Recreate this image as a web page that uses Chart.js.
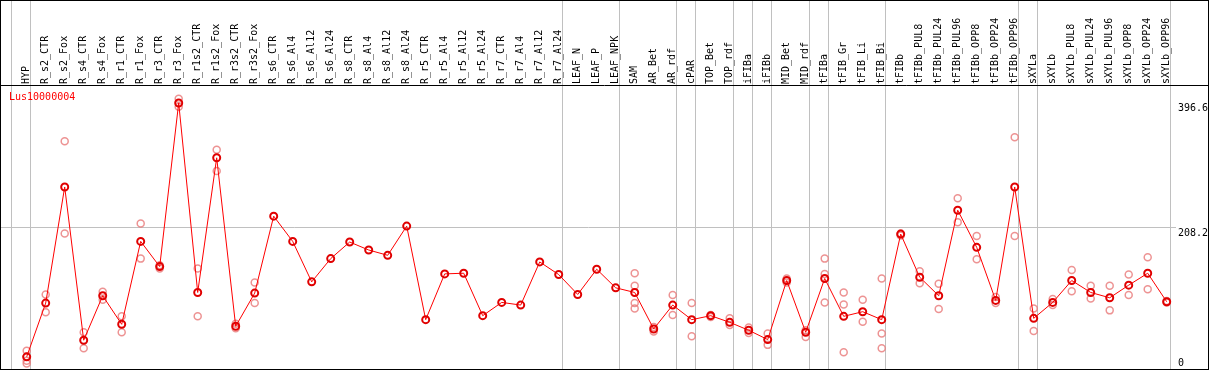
<!DOCTYPE html>
<html>
<head>
<meta charset="utf-8">
<script src="https://cdn.jsdelivr.net/npm/chart.js@4"></script>
<style>
body { margin: 0; background: #fff; }
canvas { display: block; }
</style>
</head>
<body>
<canvas id="expr" width="1209" height="370"></canvas>
<script>
const geneName = 'Lus10000004';

const categories = ['HYP', 'R_s2_CTR', 'R_s2_Fox', 'R_s4_CTR', 'R_s4_Fox', 'R_r1_CTR', 'R_r1_Fox',
  'R_r3_CTR', 'R_r3_Fox', 'R_r1s2_CTR', 'R_r1s2_Fox', 'R_r3s2_CTR', 'R_r3s2_Fox',
  'R_s6_CTR', 'R_s6_Al4', 'R_s6_Al12', 'R_s6_Al24', 'R_s8_CTR', 'R_s8_Al4', 'R_s8_Al12', 'R_s8_Al24',
  'R_r5_CTR', 'R_r5_Al4', 'R_r5_Al12', 'R_r5_Al24', 'R_r7_CTR', 'R_r7_Al4', 'R_r7_Al12', 'R_r7_Al24',
  'LEAF_N', 'LEAF_P', 'LEAF_NPK', 'SAM', 'AR_Bet', 'AR_rdf', 'cPAR', 'TOP_Bet', 'TOP_rdf',
  'iFIBa', 'iFIBb', 'MID_Bet', 'MID_rdf', 'tFIBa', 'tFIB_Gr', 'tFIB_Li', 'tFIB_Bi',
  'tFIBb', 'tFIBb_PUL8', 'tFIBb_PUL24', 'tFIBb_PUL96', 'tFIBb_OPP8', 'tFIBb_OPP24', 'tFIBb_OPP96',
  'sXYLa', 'sXYLb', 'sXYLb_PUL8', 'sXYLb_PUL24', 'sXYLb_PUL96', 'sXYLb_OPP8', 'sXYLb_OPP24', 'sXYLb_OPP96'];

// mean per sample
const means = [14, 95, 270, 39, 106, 63, 188, 150, 396.6, 111, 314, 60, 110,
  226, 188, 127, 162, 187, 175, 167, 211,
  70, 139, 140, 76, 96, 92, 157, 138,
  108, 146, 118, 111, 56, 92, 70, 76, 66,
  54, 40, 129, 51, 132, 75, 82, 70,
  199, 134, 106, 235, 179, 99, 270,
  72, 96, 129, 111, 103, 122, 140, 97];

// single replicates (faint circles)
const replicates = [[23, 14, 8, 4], [108, 81], [339, 200], [51, 27], [112, 100], [75, 51], [215, 162],
  [152, 147], [403, 391], [147, 75], [326, 294], [64, 57], [126, 95],
  [], [], [], [], [], [], [], [],
  [], [], [], [], [], [], [], [],
  [], [], [], [140, 121, 95, 87], [59, 52], [107, 77], [95, 45], [77, 74], [72, 62],
  [58, 50], [49, 32], [132, 126], [54, 44], [162, 139, 96], [111, 93, 21], [100, 67], [132, 49, 27],
  [200, 197], [143, 125], [124, 86], [253, 217], [196, 161], [104, 95], [345, 196],
  [87, 53], [101, 92], [145, 113], [121, 102], [121, 84], [138, 107], [164, 116], [98, 96]];

const yTicks = [0, 208.2, 396.6];

// group separators: drawn just after these sample indexes
const groupBreaks = [-1, 0, 28, 31, 34, 35, 37, 38, 39, 41, 42, 45, 52, 53, 60];

const meanPoints = means.map((v, i) => ({x: i, y: v}));
const repPoints = [];
replicates.forEach((reps, i) => reps.forEach(v => repPoints.push({x: i, y: v})));

const frames = {
  id: 'frames',
  beforeDraw(chart) {
    const ctx = chart.ctx;
    const x = chart.scales.x;
    ctx.save();
    ctx.fillStyle = '#fff';
    ctx.fillRect(0, 0, chart.width, chart.height);
    ctx.strokeStyle = '#c0c0c0';
    ctx.lineWidth = 1;
    groupBreaks.forEach(b => {
      const px = Math.round(x.getPixelForValue(b + 0.19)) + 0.5;
      ctx.beginPath();
      ctx.moveTo(px, 0);
      ctx.lineTo(px, chart.chartArea.bottom);
      ctx.stroke();
    });
    ctx.restore();
  },
  afterDraw(chart) {
    const ctx = chart.ctx;
    const area = chart.chartArea;
    const y = chart.scales.y;
    ctx.save();
    ctx.strokeStyle = '#000';
    ctx.lineWidth = 1;
    ctx.strokeRect(0.5, 0.5, chart.width - 1, chart.height - 1);
    ctx.beginPath();
    ctx.moveTo(0, area.top - 0.5);
    ctx.lineTo(chart.width, area.top - 0.5);
    ctx.stroke();
    ctx.font = '10px "DejaVu Sans Mono"';
    ctx.textBaseline = 'top';
    ctx.fillStyle = '#ff0000';
    ctx.fillText(geneName, 9, area.top + 6);
    ctx.fillStyle = '#000';
    yTicks.forEach(t => {
      const py = Math.min(Math.round(y.getPixelForValue(t)), area.bottom - 11);
      ctx.fillText(String(t), area.right + 2, py);
    });
    ctx.restore();
  }
};

Chart.defaults.font.family = '"DejaVu Sans Mono", monospace';

const canvas = document.getElementById('expr');
const chart = new Chart(canvas, {
  type: 'scatter',
  data: {
    datasets: [
      {
        label: geneName,
        data: meanPoints,
        showLine: true,
        borderColor: '#ff0000',
        borderWidth: 1,
        pointRadius: 3.5,
        pointBorderWidth: 2,
        pointBorderColor: '#e00000',
        pointBackgroundColor: 'rgba(0,0,0,0)'
      },
      {
        label: 'replicates',
        data: repPoints,
        showLine: false,
        pointRadius: 3.5,
        pointBorderWidth: 1.5,
        pointBorderColor: 'rgba(232,120,120,0.8)',
        pointBackgroundColor: 'rgba(0,0,0,0)'
      }
    ]
  },
  options: {
    responsive: false,
    animation: false,
    layout: {autoPadding: false, padding: {left: 1, right: 1, top: 1, bottom: 1}},
    plugins: {legend: {display: false}, tooltip: {enabled: false}},
    scales: {
      x: {
        type: 'linear',
        position: 'top',
        min: -1.3526,
        max: 60.489,
        afterBuildTicks: s => { s.ticks = categories.map((c, i) => ({value: i})); },
        afterFit: s => {
          s.height = 85;
          s.paddingLeft = 0;
          s.paddingRight = 0;
        },
        grid: {display: false, drawTicks: false},
        border: {display: false},
        ticks: {
          autoSkip: false,
          minRotation: 90,
          maxRotation: 90,
          padding: 2,
          labelOffset: 12,
          color: '#000',
          font: {size: 10},
          callback: v => categories[v]
        }
      },
      y: {
        position: 'right',
        min: -4.37,
        max: 422.2,
        afterBuildTicks: s => { s.ticks = yTicks.map(v => ({value: v})); },
        afterFit: s => { s.width = 32; },
        grid: {
          drawTicks: false,
          color: c => (c.tick && c.tick.value === 208.2) ? '#c0c0c0' : 'rgba(0,0,0,0)'
        },
        border: {display: false},
        ticks: {display: false}
      }
    }
  },
  plugins: [frames]
});
</script>
</body>
</html>
